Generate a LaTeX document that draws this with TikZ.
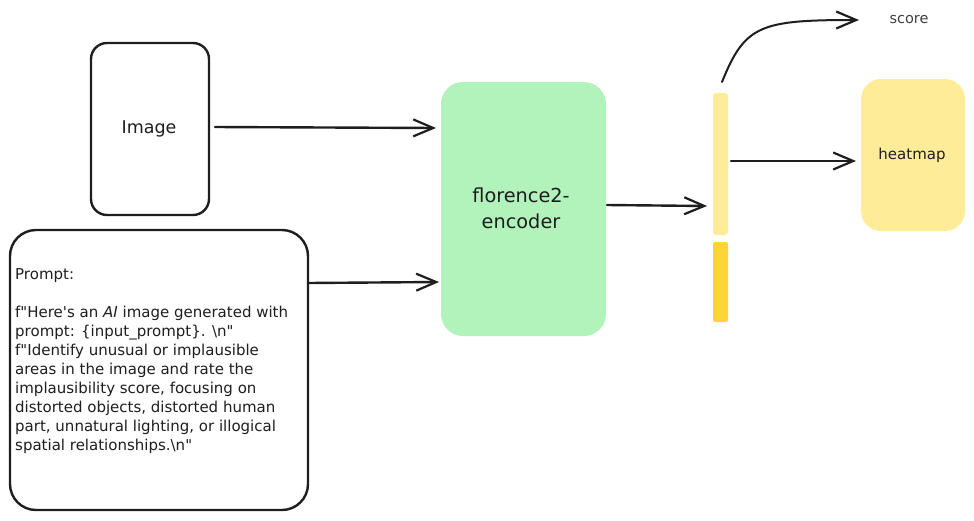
\documentclass[tikz,border=0pt]{standalone}
\usepackage{fontspec}
\setmainfont{DejaVu Sans}
\newfontfamily\plainfont{DejaVu Sans}
\usetikzlibrary{arrows.meta}
\definecolor{ink}{HTML}{1E1E1E}
\definecolor{greenfill}{HTML}{B2F2BB}
\definecolor{lightyellow}{HTML}{FFEC99}
\definecolor{darkyellow}{HTML}{FFD43B}
\tikzset{
  outlinebox/.style={draw=ink, line width=2.4pt, fill=white},
  conn/.style={draw=ink, line width=2.4pt, line cap=round, -{Straight Barb[length=20pt,width=17pt,line width=2.2pt]}},
  lbl/.style={font=\fontsize{16}{20}\selectfont, text=ink, align=center},
}
\begin{document}
\begin{tikzpicture}[x=1pt,y=-1pt]
\useasboundingbox (0,0) rectangle (974,520);
% boxes
\draw[outlinebox, rounded corners=16pt] (91,43) rectangle (209,215);
\node[lbl, font=\fontsize{17.5}{20}\selectfont] (img) at (149,129) {Image};
\coordinate (imgE) at (215,127);
\draw[outlinebox, rounded corners=26pt] (10,230) rectangle (308,510);
\node[anchor=north west, align=left, text=ink, font=\plainfont\fontsize{15}{19}\selectfont, inner sep=0pt] (prompt) at (15,268) {Prompt:\\[19pt]
f"Here's an \textit{AI} image generated with\\
prompt: \{input\_prompt\}. \textbackslash n"\\
f"Identify unusual or implausible\\
areas in the image and rate the\\
implausibility score, focusing on\\
distorted objects, distorted human\\
part, unnatural lighting, or illogical\\
spatial relationships.\textbackslash n"};
\coordinate (promptE) at (308,283);
\fill[greenfill, rounded corners=22pt] (441,82) rectangle (606,336);
\node[lbl, font=\fontsize{19.3}{26}\selectfont] (enc) at (521,208) {florence2-\\encoder};
\coordinate (encW1) at (436,128);
\coordinate (encW2) at (439,282);
\coordinate (encE) at (607,205);
\fill[lightyellow, rounded corners=3pt] (713,93) rectangle (728,235);
\fill[darkyellow, rounded corners=2pt] (713,242) rectangle (728,322);
\coordinate (barW) at (707,206);
\coordinate (barE) at (731,161);
\coordinate (barTop) at (722,82);
\fill[lightyellow, rounded corners=20pt] (861,79) rectangle (965,231);
\node[lbl, font=\fontsize{15}{18}\selectfont] (heat) at (912,155) {heatmap};
\coordinate (heatW) at (856,161);
\node[text=ink!85, font=\fontsize{14.5}{16}\selectfont] (score) at (909,20) {score};
\coordinate (scoreW) at (859,20);
% connectors
\draw[conn] (imgE) -- (encW1);
\draw[conn] (promptE) -- (encW2);
\draw[conn] (encE) -- (barW);
\draw[conn] (barE) -- (heatW);
\draw[conn, line width=2pt] (barTop) .. controls (745,25) and (760,20) .. (scoreW);
\end{tikzpicture}
\end{document}
